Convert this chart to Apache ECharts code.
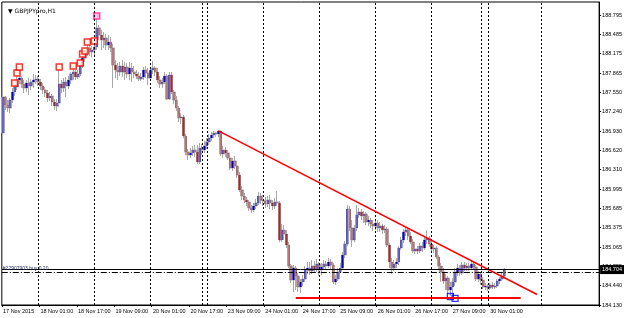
<!DOCTYPE html>
<html>
<head>
<meta charset="utf-8">
<script src="https://cdn.jsdelivr.net/npm/echarts@6/dist/echarts.min.js"></script>
<style>
  html, body { margin: 0; padding: 0; background: #fff; }
  #main { width: 625px; height: 318px; }
</style>
</head>
<body>
<div id="main"></div>
<script>
// GBPJPYpro H1, 17 Nov 2015 09:00 .. 30 Nov 2015 07:00
var days = ['17 Nov', '18 Nov', '19 Nov', '20 Nov', '23 Nov', '24 Nov', '25 Nov', '26 Nov', '27 Nov', '30 Nov', '1 Dec', '2 Dec'];
var firstHour = 9;
var slotCount = 255; // chart shift: empty slots right of last bar

// [open, close, low, high]
var bars = [
  [186.897,187.476,186.865,187.508],[187.476,187.347,187.267,187.492],[187.347,187.299,187.234,187.427],[187.299,187.427,187.218,187.460],
  [187.427,187.556,187.379,187.621],[187.556,187.637,187.492,187.669],[187.637,187.749,187.588,187.813],[187.749,187.781,187.685,187.910],
  [187.781,187.685,187.621,187.813],[187.685,187.621,187.540,187.749],[187.621,187.701,187.556,187.749],[187.701,187.653,187.508,187.781],
  [187.653,187.717,187.588,187.765],[187.717,187.749,187.621,187.846],[187.749,187.765,187.685,187.830],[187.765,187.717,187.653,187.813],
  [187.717,187.653,187.588,187.765],[187.653,187.588,187.524,187.701],[187.588,187.540,187.476,187.637],[187.540,187.460,187.395,187.588],
  [187.460,187.492,187.411,187.556],[187.492,187.395,187.331,187.524],[187.395,187.331,187.267,187.444],[187.331,187.379,187.251,187.444],
  [187.379,187.685,187.315,187.910],[187.685,187.621,187.540,187.749],[187.621,187.717,187.556,187.781],[187.717,187.653,187.476,187.797],
  [187.653,187.749,187.604,187.813],[187.749,187.846,187.685,187.878],[187.846,187.878,187.749,187.942],[187.878,187.797,187.749,187.910],
  [187.797,187.846,187.765,187.910],[187.846,187.974,187.813,188.007],[187.974,188.103,187.942,188.135],[188.103,188.167,188.039,188.183],
  [188.167,188.264,188.135,188.328],[188.264,188.200,188.135,188.312],[188.200,188.232,188.119,188.296],[188.232,188.280,188.151,188.344],
  [188.280,188.586,188.232,188.730],[188.586,188.473,188.393,188.634],[188.473,188.393,188.232,188.553],[188.393,188.425,188.264,188.521],
  [188.425,188.312,188.232,188.489],[188.312,188.360,188.232,188.473],[188.360,188.264,188.200,188.441],[188.264,187.991,187.621,188.328],
  [187.991,187.910,187.781,188.071],[187.910,187.878,187.749,188.023],[187.878,187.974,187.813,188.039],[187.974,187.878,187.797,188.071],
  [187.878,187.958,187.749,188.039],[187.958,187.846,187.781,188.023],[187.846,187.942,187.749,188.039],[187.942,187.878,187.717,188.023],
  [187.878,187.846,187.781,187.974],[187.846,187.813,187.765,187.910],[187.813,187.765,187.733,187.878],[187.765,187.797,187.733,187.862],
  [187.797,187.910,187.749,187.958],[187.910,187.862,187.781,187.974],[187.862,187.781,187.669,187.942],[187.781,187.910,187.749,187.958],
  [187.910,187.942,187.846,188.055],[187.942,187.878,187.813,187.974],[187.878,187.749,187.701,187.942],[187.749,187.685,187.621,187.813],
  [187.685,187.717,187.621,187.781],[187.717,187.813,187.685,187.878],[187.813,187.444,187.427,187.846],[187.444,187.830,187.427,187.878],
  [187.830,187.556,187.524,187.878],[187.556,187.427,187.363,187.588],[187.427,187.299,187.251,187.492],[187.299,187.138,187.074,187.331],
  [187.138,187.154,187.041,187.218],[187.154,186.848,186.816,187.186],[186.848,186.591,186.543,186.881],[186.591,186.543,186.462,186.639],
  [186.543,186.575,186.495,186.655],[186.575,186.623,186.527,186.688],[186.623,186.591,186.511,186.704],[186.591,186.430,186.398,186.704],
  [186.430,186.655,186.398,186.736],[186.655,186.623,186.543,186.720],[186.623,186.688,186.575,186.768],[186.688,186.752,186.639,186.816],
  [186.752,186.816,186.704,186.881],[186.816,186.865,186.768,186.913],[186.865,186.897,186.816,186.929],[186.897,186.881,186.832,186.913],
  [186.881,186.929,186.832,186.945],[186.929,186.559,186.527,186.937],[186.559,186.623,186.495,186.688],[186.623,186.575,186.511,186.672],
  [186.575,186.495,186.462,186.623],[186.495,186.334,186.302,186.543],[186.334,186.446,186.286,186.495],[186.446,186.366,186.318,186.527],
  [186.366,186.221,186.173,186.430],[186.221,185.980,185.948,186.269],[185.980,185.883,185.819,186.044],[185.883,185.819,185.771,185.932],
  [185.819,185.787,185.723,185.867],[185.787,185.690,185.642,185.819],[185.690,185.658,185.610,185.739],[185.658,185.723,185.626,185.771],
  [185.723,185.771,185.674,185.835],[185.771,185.883,185.739,185.948],[185.883,185.819,185.755,185.932],[185.819,185.803,185.723,185.900],
  [185.803,185.755,185.690,185.867],[185.755,185.819,185.706,185.883],[185.819,185.771,185.674,185.900],[185.771,185.723,185.658,185.819],
  [185.723,185.787,185.674,185.851],[185.787,185.771,185.723,185.964],[185.771,185.176,185.143,185.803],[185.176,185.336,185.143,185.433],
  [185.336,185.272,185.176,185.417],[185.272,185.095,185.047,185.336],[185.095,184.757,184.725,185.143],[184.757,184.532,184.484,184.790],
  [184.532,184.725,184.339,184.773],[184.725,184.597,184.371,184.757],[184.597,184.420,184.339,184.645],[184.420,184.500,184.323,184.548],
  [184.500,184.548,184.436,184.613],[184.548,184.693,184.500,184.757],[184.693,184.725,184.629,184.822],[184.725,184.677,184.613,184.822],
  [184.677,184.757,184.629,184.854],[184.757,184.709,184.645,184.838],[184.709,184.790,184.661,184.870],[184.790,184.693,184.597,184.822],
  [184.693,184.741,184.613,184.806],[184.741,184.790,184.693,184.854],[184.790,184.757,184.693,184.838],[184.757,184.822,184.725,184.886],
  [184.822,184.773,184.709,184.870],[184.773,184.500,184.468,184.806],[184.500,184.548,184.452,184.613],[184.548,184.661,184.516,184.725],
  [184.661,184.725,184.645,184.806],[184.725,184.934,184.693,184.983],[184.934,185.111,184.886,185.160],[185.111,185.674,185.079,185.739],
  [185.674,185.369,185.320,185.723],[185.369,185.176,185.063,185.497],[185.176,185.369,185.143,185.417],[185.369,185.578,185.320,185.739],
  [185.578,185.626,185.530,185.690],[185.626,185.562,185.497,185.674],[185.562,185.594,185.449,185.642],[185.594,185.465,185.417,185.626],
  [185.465,185.497,185.401,185.562],[185.497,185.433,185.369,185.530],[185.433,185.401,185.320,185.497],[185.401,185.449,185.336,185.513],
  [185.449,185.369,185.304,185.497],[185.369,185.401,185.304,185.465],[185.401,185.336,185.272,185.433],[185.336,185.353,185.288,185.417],
  [185.353,185.095,185.063,185.385],[185.095,184.822,184.725,185.127],[184.822,184.725,184.629,184.886],[184.725,184.790,184.677,184.854],
  [184.790,184.822,184.725,184.886],[184.822,185.047,184.773,185.079],[185.047,185.176,185.015,185.224],[185.176,185.304,185.127,185.353],
  [185.304,185.336,185.240,185.385],[185.336,185.240,185.176,185.369],[185.240,185.143,185.111,185.304],[185.143,184.999,184.967,185.192],
  [184.999,185.031,184.950,185.079],[185.031,184.999,184.950,185.079],[184.999,185.079,184.967,185.127],[185.079,185.047,184.983,185.143],
  [185.047,185.176,185.015,185.240],[185.176,185.208,185.111,185.336],[185.208,185.111,185.063,185.240],[185.111,185.031,184.999,185.160],
  [185.031,185.047,184.967,185.095],[185.047,184.902,184.870,185.079],[184.902,184.757,184.693,184.934],[184.757,184.661,184.500,184.806],
  [184.661,184.516,184.468,184.725],[184.516,184.564,184.371,184.629],[184.564,184.371,184.307,184.597],[184.371,184.420,184.275,184.500],
  [184.420,184.500,184.259,184.564],[184.500,184.661,184.436,184.725],[184.661,184.725,184.597,184.790],[184.725,184.645,184.597,184.773],
  [184.645,184.773,184.613,184.822],[184.773,184.725,184.677,184.822],[184.725,184.757,184.677,184.806],[184.757,184.725,184.677,184.806],
  [184.725,184.790,184.693,184.838],[184.790,184.741,184.693,184.822],[184.741,184.548,184.516,184.773],[184.548,184.629,184.500,184.677],
  [184.629,184.532,184.452,184.661],[184.532,184.420,184.387,184.580],[184.420,184.436,184.371,184.484],[184.436,184.403,184.355,184.468],
  [184.403,184.452,184.371,184.484],[184.452,184.420,184.387,184.500],[184.420,184.436,184.387,184.484],[184.436,184.516,184.403,184.548],
  [184.516,184.548,184.468,184.580],[184.548,184.597,184.516,184.645],[184.597,184.704,184.548,184.725]
];

// fractal-style markers [bar index, price]
var redMarks = [[5,187.701],[6,187.862],[7,187.958],[24,187.958],[30,187.974],[33,188.023],[34,188.167],[35,188.216],[36,188.360],[39,188.376]];
var topMark = [[40,188.779]];
var blueMarks = [[191,184.267],[193,184.235]];

// drawn objects
var trendLine = [[92,186.930],[228,184.299]];
var supportLine = [[125,184.254],[221,184.254]];
var bidPrice = 184.704;
var orderPrice = 184.655;
var orderText = '#22907903 buy 0.20';
var separators = [15, 39, 63, 85, 87, 111, 135, 159, 183, 204, 207, 230];

var yTickLabels = ['184.130','184.440','184.755','185.065','185.375','185.685','185.995','186.310',
                   '186.620','186.930','187.240','187.550','187.865','188.175','188.485','188.795'];
var yMin = 184.130, yMax = 189.004, yStep = 0.311;

// hourly category names
var categories = [];
(function () {
  var d = 0, h = firstHour;
  for (var i = 0; i < slotCount; i++) {
    categories.push(days[d] + ' ' + (h < 10 ? '0' : '') + h + ':00');
    h++;
    if (h === 24) { h = 0; d++; }
  }
})();

var font = 'Liberation Sans';
var myChart = echarts.init(document.getElementById('main'), null, { renderer: 'canvas' });
myChart.setOption({
  animation: false,
  backgroundColor: '#fff',
  title: {
    text: '\u25BC GBPJPYpro,H1',
    left: 3,
    top: 3,
    textStyle: { fontSize: 6, fontWeight: 'normal', color: '#000', fontFamily: 'DejaVu Sans' }
  },
  grid: { left: 0, right: 25, top: 2, bottom: 13, show: true, borderColor: '#000', borderWidth: 1 },
  xAxis: {
    type: 'category',
    data: categories,
    boundaryGap: true,
    axisLine: { show: true, lineStyle: { color: '#000', width: 1 } },
    axisTick: {
      show: true, length: 2, lineStyle: { color: '#000' },
      interval: function (idx) { return idx % 16 === 0 && idx <= 208; }
    },
    axisLabel: {
      fontSize: 5.5, color: '#000', fontFamily: font, align: 'left', margin: 3,
      interval: function (idx) { return idx % 16 === 0 && idx <= 208; },
      formatter: function (v, idx) { return idx === 0 ? '17 Nov 2015' : v; }
    },
    splitLine: { show: false }
  },
  yAxis: {
    type: 'value',
    position: 'right',
    min: yMin,
    max: yMax,
    interval: yStep,
    scale: true,
    axisLine: { show: true, lineStyle: { color: '#000', width: 1 } },
    axisTick: { show: true, length: 2, lineStyle: { color: '#000' } },
    splitLine: { show: false },
    axisLabel: {
      fontSize: 5.5, color: '#000', fontFamily: font, margin: 3,
      showMaxLabel: false,
      formatter: function (v) {
        var k = Math.round((v - yMin) / yStep);
        if (Math.abs(v - (yMin + k * yStep)) > 0.01) return '';
        return yTickLabels[k] || '';
      }
    }
  },
  series: [
    {
      // wicks and candle outline
      name: 'bars',
      type: 'candlestick',
      data: bars,
      barWidth: 2.8,
      itemStyle: { color: '#c8c8c8', color0: '#c8c8c8', borderColor: '#a8a8a8', borderColor0: '#a8a8a8', borderWidth: 1 },
      markLine: {
        silent: true,
        symbol: ['none', 'none'],
        animation: false,
        data: separators.map(function (i) {
          return { xAxis: i, lineStyle: { color: '#000', width: 1, type: [2, 2] }, label: { show: false } };
        }).concat([
          [
            { coord: trendLine[0], lineStyle: { color: '#ff0000', width: 1.5, type: 'solid' }, label: { show: false } },
            { coord: trendLine[1] }
          ],
          [
            { coord: supportLine[0], lineStyle: { color: '#ff0000', width: 2, type: 'solid' }, label: { show: false } },
            { coord: supportLine[1] }
          ],
          {
            yAxis: orderPrice,
            lineStyle: { color: '#000', width: 1, type: [6, 2, 1, 2] },
            label: { show: true, position: 'insideStartTop', formatter: orderText, fontSize: 5, color: '#203060', fontFamily: font, distance: 1 }
          },
          {
            yAxis: bidPrice,
            lineStyle: { color: '#000', width: 1, type: 'solid' },
            label: {
              show: true, position: 'end', formatter: '184.704', fontSize: 5.5, fontFamily: font,
              color: '#fff', backgroundColor: '#000', padding: [2, 2, 1, 2], distance: 1
            }
          }
        ])
      },
      z: 2
    },
    {
      // coloured bodies
      name: 'bodies',
      type: 'candlestick',
      data: bars.map(function (b) { return [b[0], b[1], Math.min(b[0], b[1]), Math.max(b[0], b[1])]; }),
      barWidth: 1.8,
      itemStyle: { color: '#0000cd', color0: '#a52a2a', borderColor: '#0000cd', borderColor0: '#a52a2a', borderWidth: 0 },
      z: 3
    },
    {
      type: 'scatter',
      data: redMarks,
      symbol: 'rect',
      symbolSize: 6,
      itemStyle: { color: '#fff8e0', borderColor: '#ff0000', borderWidth: 1.5 },
      z: 4
    },
    {
      type: 'scatter',
      data: topMark,
      symbol: 'rect',
      symbolSize: 6,
      itemStyle: { color: '#ffb0e0', borderColor: '#ff2090', borderWidth: 1.5 },
      z: 4
    },
    {
      type: 'scatter',
      data: blueMarks,
      symbol: 'rect',
      symbolSize: 6,
      itemStyle: { color: 'rgba(255,255,255,0)', borderColor: '#0000ff', borderWidth: 1.3 },
      z: 4
    }
  ]
});
</script>
</body>
</html>
